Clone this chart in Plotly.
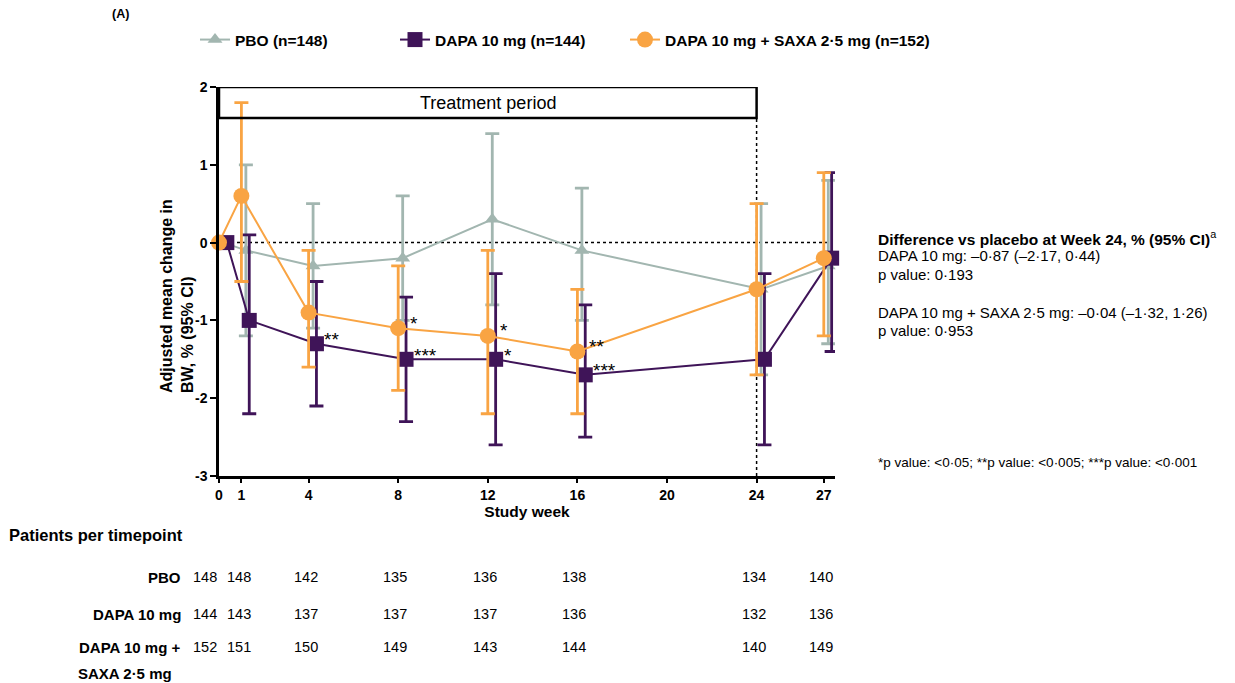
import plotly.graph_objects as go

# ---------------- data ----------------
weeks = [0, 1, 4, 8, 12, 16, 24, 27]

pbo_mean = [0.0, -0.1, -0.3, -0.2, 0.3, -0.1, -0.6, -0.3]
pbo_lo = [0.0, -1.2, -1.1, -1.0, -0.8, -1.0, -1.7, -1.3]
pbo_hi = [0.0, 1.0, 0.5, 0.6, 1.4, 0.7, 0.5, 0.8]

dapa_mean = [0.0, -1.0, -1.3, -1.5, -1.5, -1.7, -1.5, -0.2]
dapa_lo = [0.0, -2.2, -2.1, -2.3, -2.6, -2.5, -2.6, -1.4]
dapa_hi = [0.0, 0.1, -0.5, -0.7, -0.4, -0.8, -0.4, 0.9]

saxa_mean = [0.0, 0.6, -0.9, -1.1, -1.2, -1.4, -0.6, -0.2]
saxa_lo = [0.0, -0.5, -1.6, -1.9, -2.2, -2.2, -1.7, -1.2]
saxa_hi = [0.0, 1.8, -0.1, -0.3, -0.1, -0.6, 0.5, 0.9]

tick_weeks = [0, 1, 4, 8, 12, 16, 20, 24, 27]
y_ticks = [-3, -2, -1, 0, 1, 2]

# significance stars
stars_dapa = {4: "**", 8: "***", 12: "*", 16: "***"}
stars_saxa = {8: "*", 12: "*", 16: "**"}

# patients per timepoint
n_pbo = [148, 148, 142, 135, 136, 138, 134, 140]
n_dapa = [144, 143, 137, 137, 137, 136, 132, 136]
n_saxa = [152, 151, 150, 149, 143, 144, 140, 149]

names = ["PBO (n=148)", "DAPA 10 mg (n=144)", "DAPA 10 mg + SAXA 2·5 mg (n=152)"]
colors = ["#a2b6b0", "#3f1458", "#f9a443"]

diff_title = "<b>Difference vs placebo at Week 24, % (95% CI)</b><sup>a</sup>"
diff_lines = ["DAPA 10 mg: –0·87 (–2·17, 0·44)", "p value: 0·193",
              "DAPA 10 mg + SAXA 2·5 mg: –0·04 (–1·32, 1·26)", "p value: 0·953"]
footnote = "*p value: <0·05; **p value: <0·005; ***p value: <0·001"

# ---------------- layout geometry (page pixels) ----------------
W, H = 1235, 683
P_LEFT, P_RIGHT, P_TOP, P_BOTTOM = 219, 835, 87, 476
L, T = P_LEFT, P_TOP
R, B = W - P_RIGHT, H - P_BOTTOM
PW = P_RIGHT - P_LEFT
PH = P_BOTTOM - P_TOP
XMAX = 27.5
FONT = "Arial, Liberation Sans, sans-serif"


def px_x(px):
    return (px - P_LEFT) / PW


def px_y(py):
    return (P_BOTTOM - py) / PH


def txt(x, y, text, size, xanchor="left", xref="paper", **kw):
    fig.add_annotation(x=x, y=y, xref=xref, yref=kw.pop("yref", "paper"),
                       text=text, showarrow=False, xanchor=xanchor,
                       yanchor=kw.pop("yanchor", "middle"), align="left",
                       font=dict(family=FONT, size=size, color="black"), **kw)


offsets = [0.2, 0.35, 0.0]
series = [
    (pbo_mean, pbo_lo, pbo_hi, "triangle-up", 13),
    (dapa_mean, dapa_lo, dapa_hi, "square", 15),
    (saxa_mean, saxa_lo, saxa_hi, "circle", 16),
]

fig = go.Figure()
legend_ids = ["legend", "legend2", "legend3"]
for i, (m, lo, hi, sym, sz) in enumerate(series):
    xs = [w + offsets[i] for w in weeks]
    fig.add_trace(go.Scatter(
        x=xs, y=m, name=names[i], mode="lines+markers",
        line=dict(color=colors[i], width=2),
        marker=dict(symbol=sym, size=sz, color=colors[i]),
        error_y=dict(type="data", symmetric=False,
                     array=[h - v for h, v in zip(hi, m)],
                     arrayminus=[v - l for l, v in zip(lo, m)],
                     color=colors[i], thickness=2.8, width=7),
        cliponaxis=False,
        legend=legend_ids[i],
    ))

# reference lines and treatment box
fig.add_shape(type="line", xref="x", yref="y", x0=0, x1=27.3, y0=0, y1=0,
              line=dict(color="black", width=1.5, dash="dot"), layer="below")
fig.add_shape(type="line", xref="x", yref="y", x0=24, x1=24, y0=-3, y1=1.6,
              line=dict(color="black", width=1.5, dash="dot"), layer="below")
fig.add_shape(type="rect", xref="x", yref="y", x0=0, x1=24, y0=1.6, y1=2,
              line=dict(color="black", width=2.5), fillcolor="rgba(0,0,0,0)",
              layer="above")
txt(12, 1.8, "Treatment period", 18, xanchor="center", xref="x", yref="y")

# significance stars
for wk, s in stars_dapa.items():
    idx = weeks.index(wk)
    txt(wk + offsets[1], dapa_mean[idx], s, 19, xref="x", yref="y",
        xshift=6, yshift=4)
for wk, s in stars_saxa.items():
    idx = weeks.index(wk)
    txt(wk + offsets[2], saxa_mean[idx], s, 19, xref="x", yref="y",
        xshift=10, yshift=5)

# y-axis title
txt(px_x(177), px_y(296), "<b>Adjusted mean change in<br>BW, % (95% CI)</b>", 16,
    xanchor="center", textangle=-90)

# panel label
txt(px_x(110), px_y(14), "<b>(A)</b>", 12.5)

# right-side text
txt(px_x(876), px_y(238), diff_title, 15.5)
for ly, line in zip([256, 274, 312, 330], diff_lines):
    txt(px_x(876), px_y(ly), line, 15)
txt(px_x(876), px_y(462), footnote, 13.5)

# patients per timepoint table
txt(px_x(7), px_y(535), "<b>Patients per timepoint</b>", 16.5)
row_y = [577, 614, 647]
row_labels = ["PBO", "DAPA 10 mg", "DAPA 10 mg +"]
for ry, lab, counts in zip(row_y, row_labels, [n_pbo, n_dapa, n_saxa]):
    txt(px_x(183), px_y(ry), "<b>" + lab + "</b>", 15, xanchor="right")
    for wk, c in zip(weeks, counts):
        txt(wk, px_y(ry), str(c), 14.5, xanchor="center", xref="x",
            xshift=-14 if wk == 0 else (-2 if wk == 1 else -3))
txt(px_x(76), px_y(673), "<b>SAXA 2·5 mg</b>", 15)

# legends (one per series for precise placement)
leg_marker_px = [212, 412, 640]
legend_common = dict(orientation="h", yanchor="middle", xanchor="left",
                     bgcolor="rgba(0,0,0,0)", borderwidth=0,
                     font=dict(family=FONT, size=15.5, color="black", weight="bold"))
fig.update_layout(
    legend=dict(x=px_x(leg_marker_px[0] - 17), y=px_y(40), **legend_common),
    legend2=dict(x=px_x(leg_marker_px[1] - 17), y=px_y(40), **legend_common),
    legend3=dict(x=px_x(leg_marker_px[2] - 15), y=px_y(40), **legend_common),
)

fig.update_layout(
    width=W, height=H, autosize=False,
    margin=dict(l=L, r=R, t=T, b=B, pad=0),
    plot_bgcolor="white", paper_bgcolor="white",
    font=dict(family=FONT, color="black"),
    showlegend=True,
    xaxis=dict(range=[0, XMAX], tickmode="array", tickvals=tick_weeks,
               ticktext=["<b>%d</b>" % t for t in tick_weeks],
               showgrid=False, zeroline=False, showline=True,
               linecolor="black", linewidth=2.5, ticks="outside",
               ticklen=4, tickwidth=2, tickcolor="black",
               tickfont=dict(family=FONT, size=14, color="black"),
               title=dict(text="<b>Study week</b>", standoff=3,
                          font=dict(family=FONT, size=15.5, color="black"))),
    yaxis=dict(range=[-3, 2], tickmode="array", tickvals=y_ticks,
               ticktext=["<b>%d</b>" % t for t in y_ticks],
               showgrid=False, zeroline=False, showline=True,
               linecolor="black", linewidth=2.5, ticks="outside",
               ticklen=6, tickwidth=2, tickcolor="black",
               tickfont=dict(family=FONT, size=14, color="black")),
)

# remove the default 8px page margin so the figure fills the window exactly
fig.write_html("out.html",
               config={"displayModeBar": False},
               post_script="document.body.style.margin='0';"
                           "document.body.style.overflow='hidden';")
